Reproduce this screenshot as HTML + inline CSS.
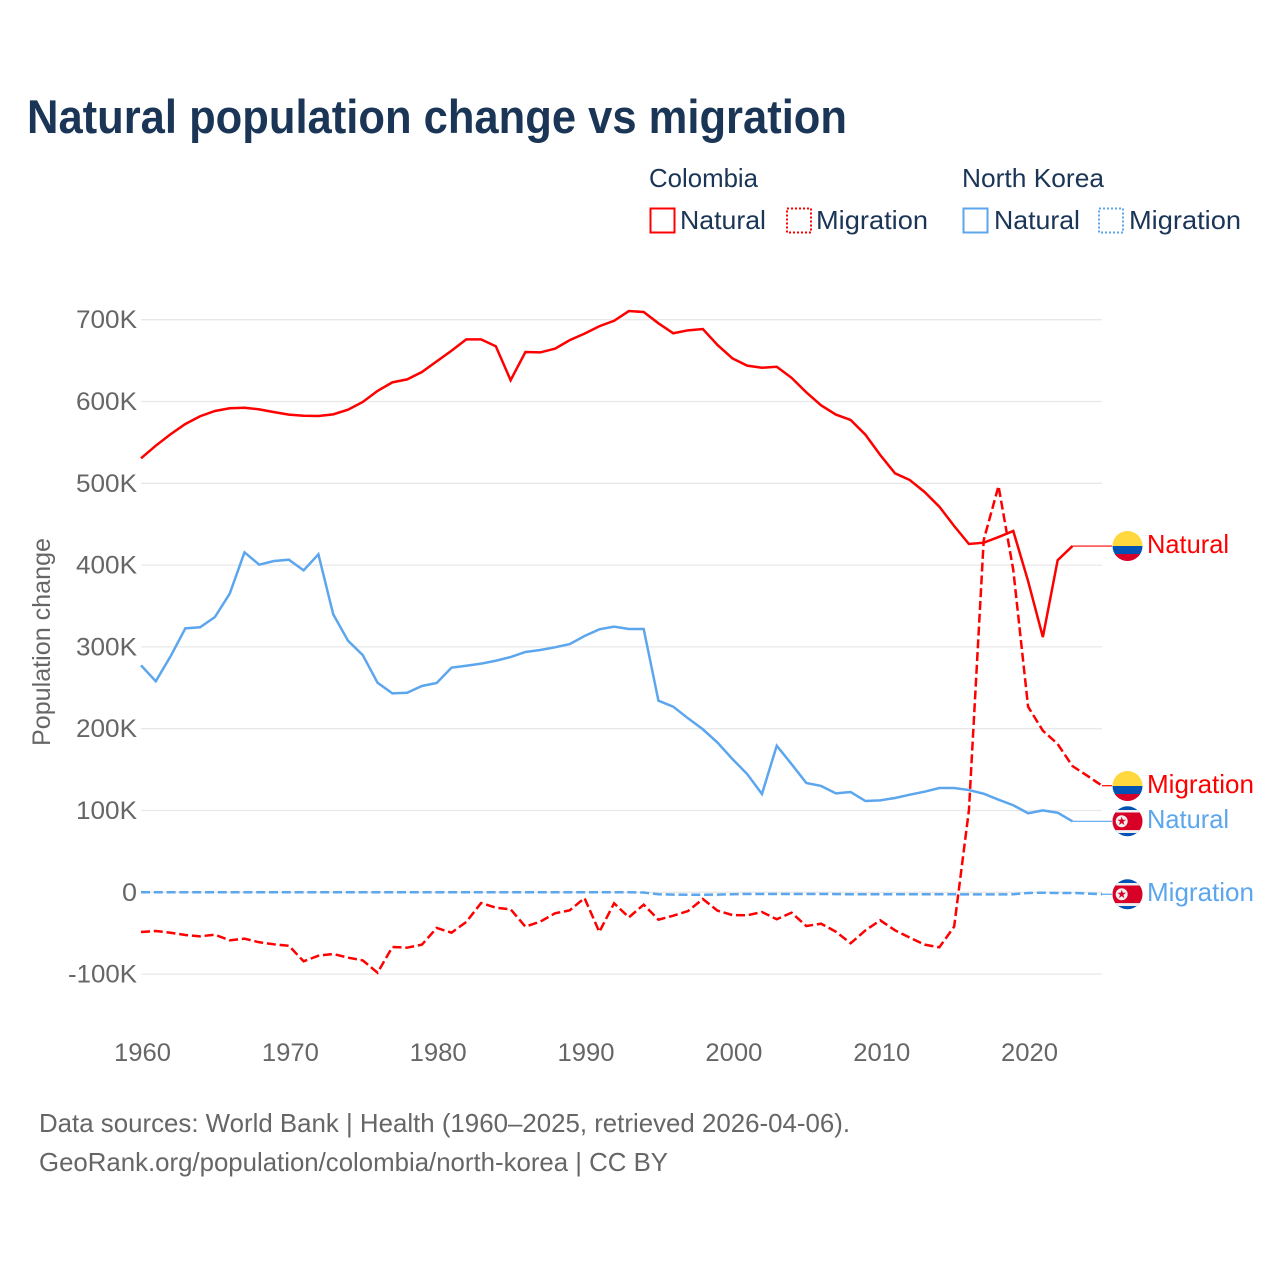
<!DOCTYPE html>
<html lang="en">
<head>
<meta charset="utf-8">
<title>Natural population change vs migration</title>
<style>
html,body{margin:0;padding:0;background:#fff;width:1280px;height:1280px;overflow:hidden}
svg{display:block}
text{font-family:"Liberation Sans",sans-serif}
</style>
</head>
<body>
<svg id="chart" width="1280" height="1280" viewBox="0 0 1280 1280" xmlns="http://www.w3.org/2000/svg">
  <rect width="1280" height="1280" fill="#fff"/>
  <text x="27" y="133" font-size="47" font-weight="700" fill="#1a3556" textLength="820" lengthAdjust="spacingAndGlyphs">Natural population change vs migration</text>

  <g font-size="26" fill="#1a3556">
    <text x="649" y="187" textLength="109" lengthAdjust="spacingAndGlyphs">Colombia</text>
    <text x="962" y="187" textLength="142" lengthAdjust="spacingAndGlyphs">North Korea</text>
    <rect x="650.5" y="208.5" width="24" height="24" fill="none" stroke="#ff0000" stroke-width="2"/>
    <text x="680" y="229" textLength="86" lengthAdjust="spacingAndGlyphs">Natural</text>
    <rect x="787" y="208.5" width="24" height="24" fill="none" stroke="#ff0000" stroke-width="2" stroke-dasharray="2 2"/>
    <text x="816" y="229" textLength="112" lengthAdjust="spacingAndGlyphs">Migration</text>
    <rect x="963.5" y="208.5" width="24" height="24" fill="none" stroke="#5ca6ee" stroke-width="2"/>
    <text x="994" y="229" textLength="86" lengthAdjust="spacingAndGlyphs">Natural</text>
    <rect x="1099" y="208.5" width="24" height="24" fill="none" stroke="#5ca6ee" stroke-width="2" stroke-dasharray="2 2"/>
    <text x="1129" y="229" textLength="112" lengthAdjust="spacingAndGlyphs">Migration</text>
  </g>

  <text transform="translate(50,642) rotate(-90)" text-anchor="middle" font-size="25" fill="#666" textLength="208" lengthAdjust="spacingAndGlyphs">Population change</text>

  <g id="grid"></g>
  <g id="yticks" font-size="25" fill="#666" text-anchor="end"></g>
  <g id="xticks" font-size="25" fill="#666" text-anchor="middle"></g>
  <g id="series" fill="none"></g>

  <defs>
    <clipPath id="flag-clip-a"><circle cx="1127.5" cy="546" r="15"/></clipPath>
    <clipPath id="flag-clip-b"><circle cx="1127.5" cy="786" r="15"/></clipPath>
    <clipPath id="flag-clip-c"><circle cx="1127.5" cy="821.3" r="15"/></clipPath>
    <clipPath id="flag-clip-d"><circle cx="1127.5" cy="894.3" r="15"/></clipPath>
  </defs>

  <g clip-path="url(#flag-clip-a)">
    <rect x="1112" y="531" width="31" height="15" fill="#ffd83d"/>
    <rect x="1112" y="546" width="31" height="8" fill="#0052b4"/>
    <rect x="1112" y="554" width="31" height="8" fill="#d80027"/>
  </g>
  <g clip-path="url(#flag-clip-b)">
    <rect x="1112" y="771" width="31" height="15" fill="#ffd83d"/>
    <rect x="1112" y="786" width="31" height="8" fill="#0052b4"/>
    <rect x="1112" y="794" width="31" height="8" fill="#d80027"/>
  </g>
  <g clip-path="url(#flag-clip-c)">
    <rect x="1112" y="806" width="31" height="31" fill="#0052b4"/>
    <rect x="1112" y="810" width="31" height="23" fill="#f0f0f0"/>
    <rect x="1112" y="812.5" width="31" height="17.6" fill="#d80027"/>
    <circle cx="1121.7" cy="821.3" r="6" fill="#f0f0f0"/>
    <polygon points="1121.7,816.8 1122.8,819.8 1126,819.8 1123.4,821.8 1124.4,825 1121.7,823.1 1119,825 1120,821.8 1117.4,819.8 1120.6,819.8" fill="#d80027"/>
  </g>
  <g clip-path="url(#flag-clip-d)">
    <rect x="1112" y="879" width="31" height="31" fill="#0052b4"/>
    <rect x="1112" y="883" width="31" height="23" fill="#f0f0f0"/>
    <rect x="1112" y="885.5" width="31" height="17.6" fill="#d80027"/>
    <circle cx="1121.7" cy="894.3" r="6" fill="#f0f0f0"/>
    <polygon points="1121.7,889.8 1122.8,892.8 1126,892.8 1123.4,894.8 1124.4,898 1121.7,896.1 1119,898 1120,894.8 1117.4,892.8 1120.6,892.8" fill="#d80027"/>
  </g>

  <g font-size="26">
    <text x="1147" y="553" fill="#ff0000" textLength="82" lengthAdjust="spacingAndGlyphs">Natural</text>
    <text x="1147" y="793" fill="#ff0000" textLength="107" lengthAdjust="spacingAndGlyphs">Migration</text>
    <text x="1147" y="828" fill="#5ca6ee" textLength="82" lengthAdjust="spacingAndGlyphs">Natural</text>
    <text x="1147" y="901" fill="#5ca6ee" textLength="107" lengthAdjust="spacingAndGlyphs">Migration</text>
  </g>

  <g font-size="26" fill="#666">
    <text x="39" y="1132" textLength="811" lengthAdjust="spacingAndGlyphs">Data sources: World Bank | Health (1960–2025, retrieved 2026-04-06).</text>
    <text x="39" y="1171" textLength="629" lengthAdjust="spacingAndGlyphs">GeoRank.org/population/colombia/north-korea | CC BY</text>
  </g>
</svg>
<script>
const firstYear = 1960;
const xTickYears = [1960, 1970, 1980, 1990, 2000, 2010, 2020];
const yTickValues = [700, 600, 500, 400, 300, 200, 100, 0, -100];
const yTickLabels = ["700K", "600K", "500K", "400K", "300K", "200K", "100K", "0", "-100K"];
const colombiaNatural = [530.5,546,560,572.5,582,588.4,591.7,592.4,590.4,587,584,582.6,582.3,584.3,590,599.4,613,623.4,627,636,649,662,676,676,667.5,626,660.5,660,664.5,675,683,692,698.7,710.6,709.4,695.6,683.4,687,688.6,669,652.8,643.8,641.3,642.5,629,611.2,595.3,584,577.4,559.4,534.6,512.2,504,489.4,471.4,447.8,425.8,427.4,434.3,441.7,380.5,312,406,423.3];
const colombiaMigration = [-48.5,-47.3,-49.4,-52.2,-53.8,-51.8,-58.7,-56.7,-61.1,-63.6,-65.3,-84.4,-77.5,-75.4,-79.9,-83.2,-98.3,-66.9,-67.7,-64,-43.6,-49.4,-36.3,-13.1,-18.8,-20.8,-42,-35.9,-25.7,-22,-7,-48.5,-13.4,-30.6,-15.1,-33.5,-28.6,-22.9,-8.2,-22.5,-27.8,-28.1,-24.1,-33,-24.9,-41.2,-38.4,-48.2,-62.3,-46.5,-34.2,-46.5,-55.5,-64,-67.2,-42,100.6,430.7,496.6,394,226.9,197.6,181.3,154.4,142.5,130.3];
const northKoreaNatural = [277.5,258,288.5,322.7,324,336.5,365,415.6,400.5,405,406.6,393.6,413.2,339.9,307.6,290,256.2,243.2,244,252.2,255.9,274.6,277,279.5,283.1,287.6,293.8,296.2,299.5,303.5,313.3,321.5,324.7,321.9,321.9,234.2,226.9,212.7,199.3,182.9,163,144.6,120.2,179.2,156.8,133.6,130,121,122.6,111.6,112.4,115.3,119.3,123,127.5,127.5,125,120.5,113.2,106.4,96.6,100.2,97.3,86.8];
const northKoreaMigration = [0,0,0,0,0,0,0,0,0,0,0,0,0,0,0,0,0,0,0,0,0,0,0,0,0,0,0,0,0,0,0,0,0,0,-0.3,-2.4,-2.8,-3,-3,-2.8,-2.4,-2,-2,-2,-2,-2,-2,-2.2,-2.4,-2.4,-2.4,-2.4,-2.4,-2.4,-2.4,-2.4,-2.6,-2.6,-2.6,-2.4,-0.8,-0.5,-0.8,-0.8,-1.5,-2.4];

const RED = "#ff0000";
const BLUE = "#5ca6ee";
const plotLeft = 141;
const plotRight = 1102;
const pxPerYear = (plotRight - plotLeft) / 65;
const zeroY = 892.3;
const pxPerK = 0.818;
const flagEdgeX = 1112;
function xScale(year) { return plotLeft + (year - firstYear) * pxPerYear; }
function yScale(k) { return zeroY - k * pxPerK; }
const NS = "http://www.w3.org/2000/svg";
function make(tag, parentId) {
  const node = document.createElementNS(NS, tag);
  document.getElementById(parentId).appendChild(node);
  return node;
}
function pointsFor(values) {
  return values.map(function (v, i) { return xScale(firstYear + i).toFixed(2) + "," + yScale(v).toFixed(2); }).join(" ");
}

yTickValues.forEach(function (v, i) {
  const grid = make("line", "grid");
  
  
  grid.setAttribute("x1", plotLeft);
  grid.setAttribute("x2", plotRight);
  grid.setAttribute("y1", yScale(v));
  grid.setAttribute("y2", yScale(v));
  grid.setAttribute("stroke", "#e8e8e8");
  grid.setAttribute("stroke-width", "1.3");
  const label = make("text", "yticks");
  
  
  label.setAttribute("x", 137);
  label.setAttribute("y", yScale(v) + 8.5);
  label.setAttribute("textLength", yTickLabels[i].length * 15 + (v === 0 ? 0 : v < 0 ? -6 : 1));
  label.setAttribute("lengthAdjust", "spacingAndGlyphs");
  label.textContent = yTickLabels[i];
});

xTickYears.forEach(function (year) {
  const label = make("text", "xticks");
  
  
  label.setAttribute("x", xScale(year) + 1.5);
  label.setAttribute("y", 1061);
  label.setAttribute("textLength", 57);
  label.setAttribute("lengthAdjust", "spacingAndGlyphs");
  label.textContent = year;
});

function drawSeries(values, color, dashed, seriesName) {
  const line = make("polyline", "series");
  
  
  line.setAttribute("points", pointsFor(values));
  line.setAttribute("stroke", color);
  line.setAttribute("stroke-width", "2.5");
  line.setAttribute("stroke-linejoin", "miter");
  if (dashed) { line.setAttribute("stroke-dasharray", "9 3.8"); }
  const lastX = xScale(firstYear + values.length - 1);
  const lastY = yScale(values[values.length - 1]);
  const link = make("line", "series");
  
  
  link.setAttribute("x1", lastX);
  link.setAttribute("x2", flagEdgeX);
  link.setAttribute("y1", lastY);
  link.setAttribute("y2", lastY);
  link.setAttribute("stroke", color);
  link.setAttribute("stroke-width", "1.2");
}
drawSeries(northKoreaNatural, BLUE, false, "line-north-korea-natural");
drawSeries(northKoreaMigration, BLUE, true, "line-north-korea-migration");
drawSeries(colombiaNatural, RED, false, "line-colombia-natural");
drawSeries(colombiaMigration, RED, true, "line-colombia-migration");
</script>
</body>
</html>
